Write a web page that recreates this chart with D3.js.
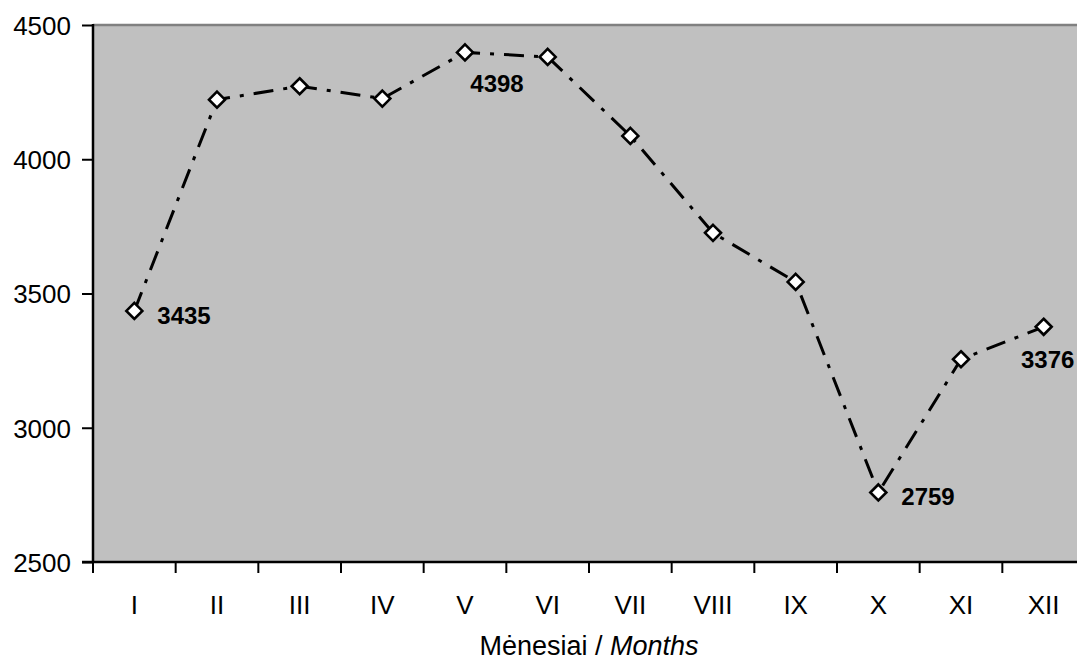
<!DOCTYPE html>
<html>
<head>
<meta charset="utf-8">
<script src="https://cdn.jsdelivr.net/npm/d3@7"></script>
<style>
  html, body { margin: 0; padding: 0; background: #ffffff; overflow: hidden; }
  svg { display: block; font-family: "Liberation Sans", Arial, sans-serif; }
</style>
</head>
<body>
<svg id="chart" width="1077" height="664"></svg>
<script>
// ---- data ----
const months = ["I", "II", "III", "IV", "V", "VI", "VII", "VIII", "IX", "X", "XI", "XII"];
const values = [3435, 4222, 4272, 4226, 4398, 4381, 4087, 3726, 3543, 2759, 3255, 3376];
const labelledMonths = ["I", "V", "X", "XII"];
const yTicks = [2500, 3000, 3500, 4000, 4500];
const axisTitleMain = "Mėnesiai / ";
const axisTitleItalic = "Months";

// ---- layout ----
const plot = { left: 93, right: 1085, top: 25, bottom: 562 };
const labelOffsets = {          // text anchor offsets from the marker (px)
  "I":   { dx: 23, dy: 13, anchor: "start" },
  "V":   { dx: 32, dy: 40, anchor: "middle" },
  "X":   { dx: 23, dy: 13, anchor: "start" },
  "XII": { dx: 4,  dy: 41, anchor: "middle" }
};

const svg = d3.select("#chart");

const x = d3.scaleBand().domain(months).range([plot.left, plot.right]).padding(0);
const y = d3.scaleLinear().domain([2500, 4500]).range([plot.bottom, plot.top]);

// plot background
svg.append("rect")
  .attr("x", plot.left).attr("y", plot.top)
  .attr("width", plot.right - plot.left).attr("height", plot.bottom - plot.top)
  .attr("fill", "#c0c0c0");

// top border (gray)
svg.append("line")
  .attr("x1", plot.left).attr("x2", plot.right)
  .attr("y1", plot.top).attr("y2", plot.top)
  .attr("stroke", "#808080").attr("stroke-width", 2.5);

// Y axis
const yAxis = d3.axisLeft(y).tickValues(yTicks).tickSize(11).tickPadding(11).tickFormat(d3.format("d"));
const gy = svg.append("g").attr("transform", `translate(${plot.left},0)`).call(yAxis);
gy.select(".domain").remove();
gy.selectAll(".tick line").attr("stroke", "#000").attr("stroke-width", 2);
gy.selectAll(".tick text").attr("fill", "#000").style("font-size", "26px").attr("dy", "0.36em");
svg.append("line")
  .attr("x1", plot.left).attr("x2", plot.left)
  .attr("y1", plot.top - 1).attr("y2", plot.bottom + 1)
  .attr("stroke", "#000").attr("stroke-width", 2.5);

// X axis: ticks at band boundaries, labels at band centres
const boundaries = months.map(m => x(m));
svg.append("g").selectAll("line.xt").data(boundaries).join("line")
  .attr("x1", d => d).attr("x2", d => d)
  .attr("y1", plot.bottom).attr("y2", plot.bottom + 11)
  .attr("stroke", "#000").attr("stroke-width", 2);
svg.append("line")
  .attr("x1", plot.left - 11).attr("x2", plot.right)
  .attr("y1", plot.bottom).attr("y2", plot.bottom)
  .attr("stroke", "#000").attr("stroke-width", 2.5);
svg.append("g").selectAll("text.xl").data(months).join("text")
  .attr("x", d => x(d) + x.bandwidth() / 2)
  .attr("y", 614)
  .attr("text-anchor", "middle")
  .attr("fill", "#000")
  .style("font-size", "26px")
  .text(d => d);

// axis title
const title = svg.append("text")
  .attr("x", (plot.left + plot.right) / 2)
  .attr("y", 655)
  .attr("text-anchor", "middle")
  .attr("fill", "#000")
  .style("font-size", "27px");
title.append("tspan").text(axisTitleMain);
title.append("tspan").style("font-style", "italic").text(axisTitleItalic);

// line
const data = months.map((m, i) => ({ m, v: values[i] }));
const line = d3.line().x(d => x(d.m) + x.bandwidth() / 2).y(d => y(d.v));
svg.append("path")
  .datum(data)
  .attr("d", line)
  .attr("fill", "none")
  .attr("stroke", "#000")
  .attr("stroke-width", 3)
  .attr("stroke-dasharray", "20,10,4,10");

// markers
const r = 8;
svg.append("g").selectAll("path.mk").data(data).join("path")
  .attr("d", d => {
    const cx = x(d.m) + x.bandwidth() / 2, cy = y(d.v);
    return `M${cx},${cy - r}L${cx + r},${cy}L${cx},${cy + r}L${cx - r},${cy}Z`;
  })
  .attr("fill", "#fff")
  .attr("stroke", "#000")
  .attr("stroke-width", 2.6);

// data labels
svg.append("g").selectAll("text.dl").data(data.filter(d => labelledMonths.includes(d.m))).join("text")
  .attr("x", d => x(d.m) + x.bandwidth() / 2 + labelOffsets[d.m].dx)
  .attr("y", d => y(d.v) + labelOffsets[d.m].dy)
  .attr("text-anchor", d => labelOffsets[d.m].anchor)
  .attr("fill", "#000")
  .style("font-size", "24px")
  .style("font-weight", "bold")
  .text(d => d.v);
</script>
</body>
</html>
